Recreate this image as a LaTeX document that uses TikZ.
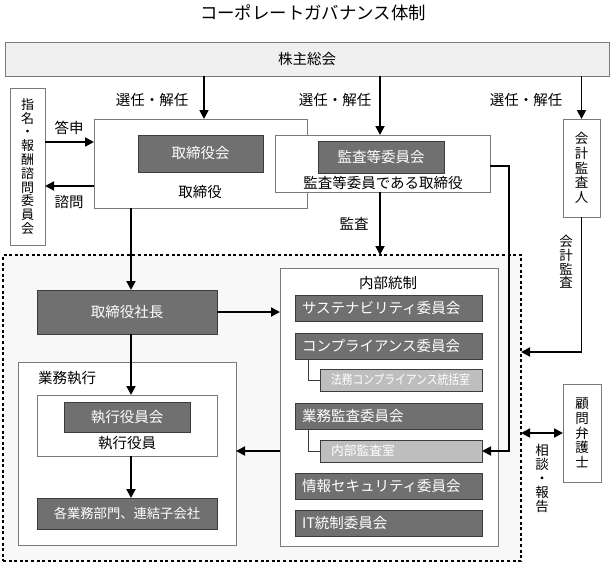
\documentclass[tikz,border=0pt]{standalone}
\usepackage{fontspec}
\setmainfont{Noto Sans CJK JP}
\usetikzlibrary{arrows.meta}
\newcommand\myfs[2]{\fontsize{#1}{#2}\selectfont}
\definecolor{darkfill}{HTML}{707070}
\definecolor{darkline}{HTML}{3C3C3C}
\definecolor{lightfill}{HTML}{BEBEBE}
\definecolor{boxline}{HTML}{7A7A7A}
\definecolor{topfill}{HTML}{F0F0F0}
\definecolor{grpfill}{HTML}{F8F8F8}
\begin{document}
\begin{tikzpicture}[x=1pt,y=-1pt,
  box/.style={draw=boxline,fill=white,line width=0.8pt,inner sep=0pt,outer sep=0pt,anchor=north west},
  dbox/.style={draw=darkline,fill=darkfill,text=white,line width=0.8pt,inner sep=0pt,outer sep=0pt,anchor=north west,font=\myfs{14.5}{16}},
  nbox/.style={dbox,text width=173pt,align=left,inner xsep=7pt,inner ysep=0pt,minimum height=26.5pt},
  lbox/.style={draw=darkline,fill=lightfill,text=white,line width=0.8pt,outer sep=0pt,anchor=north west,font=\myfs{12.8}{14},text width=140pt,align=left,inner xsep=11pt,inner ysep=0pt,minimum height=22pt},
  vbox/.style={box,align=center,font=\myfs{13.5}{14.6}},
  lbl/.style={font=\myfs{14.5}{16},inner sep=0pt},
  arr/.style={line width=1.8pt,-{Triangle[length=9pt,width=9pt]}},
  darr/.style={line width=1.8pt,{Triangle[length=9pt,width=9pt]}-{Triangle[length=9pt,width=9pt]}},
  conn/.style={line width=0.9pt,draw=darkline},
  grpstyle/.style={draw=black,line width=2pt,dash pattern=on 3pt off 2.6pt,fill=grpfill,inner sep=0pt,outer sep=0pt,anchor=north west},
]
\useasboundingbox (0,0) rectangle (611,565);

% helper coordinates
\coordinate (x204) at (204,0);
\coordinate (x380) at (380,0);
\coordinate (x131) at (131,0);
\coordinate (x509) at (509,0);
\coordinate (y142) at (0,142);
\coordinate (y186) at (0,186);
\coordinate (y166) at (0,166);
\coordinate (y352) at (0,352);
\coordinate (y451) at (0,451);

\node[font=\myfs{17.4}{18}] (title) at (313,13) {コーポレートガバナンス体制};
\node[box,fill=topfill,minimum width=604pt,minimum height=34pt,font=\myfs{14.5}{16}] (kabu) at (5,42) {株主総会};

% dashed group
\node[grpstyle,minimum width=518pt,minimum height=306pt] (grp) at (3,255) {};

% left committee
\node[vbox,minimum width=35pt,minimum height=157pt,font=\myfs{13}{13.8}] (shimei) at (10,88) {指\\名\\・\\報\\酬\\諮\\問\\委\\員\\会};

% board
\node[box,minimum width=213pt,minimum height=89pt] (tbox) at (94,119) {};
\node[dbox,minimum width=125pt,minimum height=37pt] (tkai) at (138,135) {取締役会};
\node[lbl] (tlab) at (200,192) {取締役};

% audit committee
\node[box,minimum width=215pt,minimum height=57pt] (kbox) at (275,135) {};
\node[dbox,minimum width=126pt,minimum height=32pt] (kkai) at (318,141) {監査等委員会};
\node[lbl] (klab) at (383,183) {監査等委員である取締役};

% accounting auditor
\node[vbox,minimum width=37pt,minimum height=98pt] (kaikei) at (563,119) {会\\計\\監\\査\\人};

% lawyer
\node[vbox,minimum width=38pt,minimum height=98pt] (komon) at (563,384) {顧\\問\\弁\\護\\士};

% president
\node[dbox,minimum width=180pt,minimum height=44pt] (shacho) at (37,290) {取締役社長};

% business execution
\node[box,minimum width=218pt,minimum height=183pt] (gyomu) at (18,362) {};
\node[lbl,anchor=west] (gyomut) at (38,378) {業務執行};
\node[box,minimum width=180pt,minimum height=61pt] (shikko) at (37,395) {};
\node[dbox,minimum width=126pt,minimum height=30pt] (shikkai) at (64,402) {執行役員会};
\node[lbl] (shikkot) at (127,443) {執行役員};
\node[dbox,minimum width=180pt,minimum height=31pt,font=\myfs{13.3}{15}] (kaku) at (37,498) {各業務部門、連結子会社};

% internal control
\node[box,minimum width=218pt,minimum height=278pt] (naibu) at (280,268) {};
\node[lbl] (naibut) at (388,283) {内部統制};
\node[nbox] (sus) at (295,295) {サステナビリティ委員会};
\node[nbox] (comp) at (295,333) {コンプライアンス委員会};
\node[lbox] (houmu) at (320,369) {\scalebox{0.84}[1]{法務コンプライアンス統括室}};
\node[nbox] (gkansa) at (295,403) {業務監査委員会};
\node[lbox] (nkansa) at (320,440) {内部監査室};
\node[nbox] (joho) at (295,473) {情報セキュリティ委員会};
\node[nbox] (itc) at (295,510) {IT統制委員会};

% labels
\node[lbl] (sen1) at (152,100) {選任・解任};
\node[lbl] (sen2) at (335,100) {選任・解任};
\node[lbl] (sen3) at (526,100) {選任・解任};
\node[lbl] (toshin) at (69,128) {答申};
\node[lbl] (shimon) at (69,202) {諮問};
\node[lbl] (kansa) at (354,224) {監査};
\node[lbl,align=center,font=\myfs{13.5}{13.8}] (kaikeikansa) at (566,262) {会\\計\\監\\査};
\node[lbl,align=center,font=\myfs{13.5}{14}] (sodan) at (542,478) {相\\談\\・\\報\\告};

% connectors
\draw[arr] (kabu.south -| x204) -- (tbox.north -| x204);
\draw[arr] (kabu.south -| x380) -- (kbox.north -| x380);
\draw[arr] (kabu.south -| kaikei.north) -- (kaikei.north);
\draw[arr] (shimei.east |- y142) -- (tbox.west |- y142);
\draw[arr] (tbox.west |- y186) -- (shimei.east |- y186);
\draw[arr] (tbox.south -| x131) -- (shacho.north -| x131);
\draw[arr] (kbox.south -| x380) -- (grp.north -| x380);
\draw[arr] (kbox.east |- y166) -- (x509 |- y166) |- (nkansa.east);
\draw[arr] (kaikei.south) |- (grp.east |- y352);
\draw[darr] (grp.east |- komon.west) -- (komon.west);
\draw[arr] (shacho.east) -- (naibu.west |- shacho.east);
\draw[arr] (shacho.south -| x131) -- (shikko.north -| x131);
\draw[arr] (shikko.south -| x131) -- (kaku.north -| x131);
\draw[arr] (naibu.west |- y451) -- (gyomu.east |- y451);
\draw[conn] ([xshift=13pt]comp.south west) |- (houmu.west);
\draw[conn] ([xshift=13pt]gkansa.south west) |- (nkansa.west);
\end{tikzpicture}
\end{document}
